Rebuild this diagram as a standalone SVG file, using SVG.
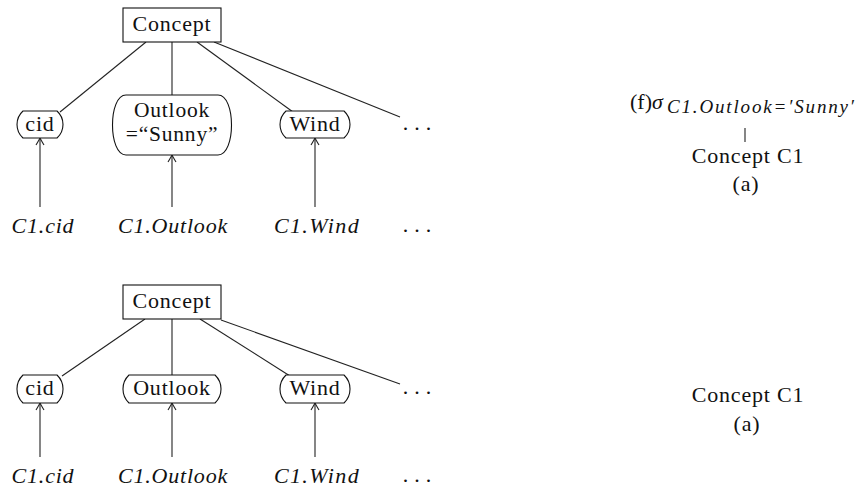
<svg xmlns="http://www.w3.org/2000/svg" width="858" height="493" viewBox="0 0 858 493">
<style>
  .t{font-family:"Liberation Serif","DejaVu Serif",serif;font-size:22px;fill:#111;text-anchor:middle;letter-spacing:0.8px}
  .i{font-style:italic}
  .s{font-family:"Liberation Serif","DejaVu Serif",serif;font-size:19px;fill:#111;font-style:italic}
  .ln{stroke:#222;stroke-width:1.1;fill:none}
  .box{stroke:#111;stroke-width:1.1;fill:#fff}
  .ar{stroke:#222;stroke-width:1.1;fill:none;marker-end:url(#arr)}
</style>
<defs>
  <marker id="arr" viewBox="-9 -5 10 10" refX="0" refY="0" markerWidth="10" markerHeight="10" markerUnits="userSpaceOnUse" orient="auto">
    <path d="M-7,-4 Q-2,-1 0,0 Q-2,1 -7,4" fill="none" stroke="#222" stroke-width="1.1"/>
  </marker>
</defs>
<rect width="858" height="493" fill="#fff"/>

<g id="connectors">
  <!-- top tree -->
  <line class="ln" x1="146" y1="42" x2="60" y2="112"/>
  <line class="ln" x1="172" y1="42" x2="172" y2="95"/>
  <line class="ln" x1="197" y1="42" x2="293" y2="112"/>
  <line class="ln" x1="214" y1="42" x2="400" y2="117"/>
  <line class="ar" x1="40" y1="207" x2="40" y2="138"/>
  <line class="ar" x1="172" y1="207" x2="172" y2="155"/>
  <line class="ar" x1="315" y1="207" x2="315" y2="138"/>
  <!-- bottom tree -->
  <line class="ln" x1="145" y1="319" x2="62" y2="376"/>
  <line class="ln" x1="172" y1="319" x2="172" y2="375"/>
  <line class="ln" x1="200" y1="319" x2="290" y2="376"/>
  <line class="ln" x1="221" y1="320" x2="400" y2="384"/>
  <line class="ar" x1="40" y1="457" x2="40" y2="403"/>
  <line class="ar" x1="172" y1="457" x2="172" y2="403"/>
  <line class="ar" x1="315" y1="457" x2="315" y2="403"/>
  <!-- right top -->
  <line class="ln" x1="745" y1="128" x2="745" y2="142"/>
</g>

<!-- top tree nodes -->
<g id="concept-top">
  <rect class="box" x="123" y="8" width="98" height="34"/>
  <text class="t" x="172" y="31">Concept</text>
</g>
<g id="cid-top">
  <path class="box" d="M23,111 H57 A18.2,18.2 0 0 1 57,138 H23 A18.2,18.2 0 0 1 23,111 Z"/>
  <text class="t" x="40" y="131">cid</text>
</g>
<g id="outlook-top">
  <path class="box" d="M126,95 H218 C236,95 236,155 218,155 H126 C108,155 108,95 126,95 Z"/>
  <text class="t" x="172" y="117" style="font-size:21.5px">Outlook</text>
  <text class="t" x="172" y="141" style="font-size:21.5px">=“Sunny”</text>
</g>
<g id="wind-top">
  <path class="box" d="M286,111 H344 A18.2,18.2 0 0 1 344,138 H286 A18.2,18.2 0 0 1 286,111 Z"/>
  <text class="t" x="315" y="131">Wind</text>
</g>
<g id="dots-top">
  <text class="t" x="420" y="130" style="letter-spacing:6px">...</text>
</g>
<g id="labels-top">
  <text class="t i" x="43" y="233">C1.cid</text>
  <text class="t i" x="173" y="233">C1.Outlook</text>
  <text class="t i" x="317" y="233" style="letter-spacing:1.4px">C1.Wind</text>
  <text class="t" x="420" y="232" style="letter-spacing:6px">...</text>
</g>

<!-- bottom tree nodes -->
<g id="concept-bottom">
  <rect class="box" x="123" y="285" width="98" height="34"/>
  <text class="t" x="172" y="308">Concept</text>
</g>
<g id="cid-bottom">
  <path class="box" d="M23,375 H57 A19.3,19.3 0 0 1 57,403 H23 A19.3,19.3 0 0 1 23,375 Z"/>
  <text class="t" x="40" y="395">cid</text>
</g>
<g id="outlook-bottom">
  <path class="box" d="M129,375 H215 A19.3,19.3 0 0 1 215,403 H129 A19.3,19.3 0 0 1 129,375 Z"/>
  <text class="t" x="172" y="395">Outlook</text>
</g>
<g id="wind-bottom">
  <path class="box" d="M286,375 H344 A19.3,19.3 0 0 1 344,403 H286 A19.3,19.3 0 0 1 286,375 Z"/>
  <text class="t" x="315" y="395">Wind</text>
</g>
<g id="dots-bottom">
  <text class="t" x="420" y="394" style="letter-spacing:6px">...</text>
</g>
<g id="labels-bottom">
  <text class="t i" x="43" y="483">C1.cid</text>
  <text class="t i" x="173" y="483">C1.Outlook</text>
  <text class="t i" x="317" y="483" style="letter-spacing:1.4px">C1.Wind</text>
  <text class="t" x="420" y="482" style="letter-spacing:6px">...</text>
</g>

<!-- right side -->
<g id="select-f">
  <text class="t" x="630" y="109" style="text-anchor:start;letter-spacing:0">(f)<tspan font-style="italic">σ</tspan></text>
  <text class="s" x="667" y="113" textLength="187" lengthAdjust="spacing">C1.Outlook=′Sunny′</text>
</g>
<g id="concept-c1-top">
  <text class="t" x="748" y="163">Concept C1</text>
  <text class="t" x="746" y="191">(a)</text>
</g>
<g id="concept-c1-bottom">
  <text class="t" x="748" y="402">Concept C1</text>
  <text class="t" x="747" y="431">(a)</text>
</g>
</svg>
